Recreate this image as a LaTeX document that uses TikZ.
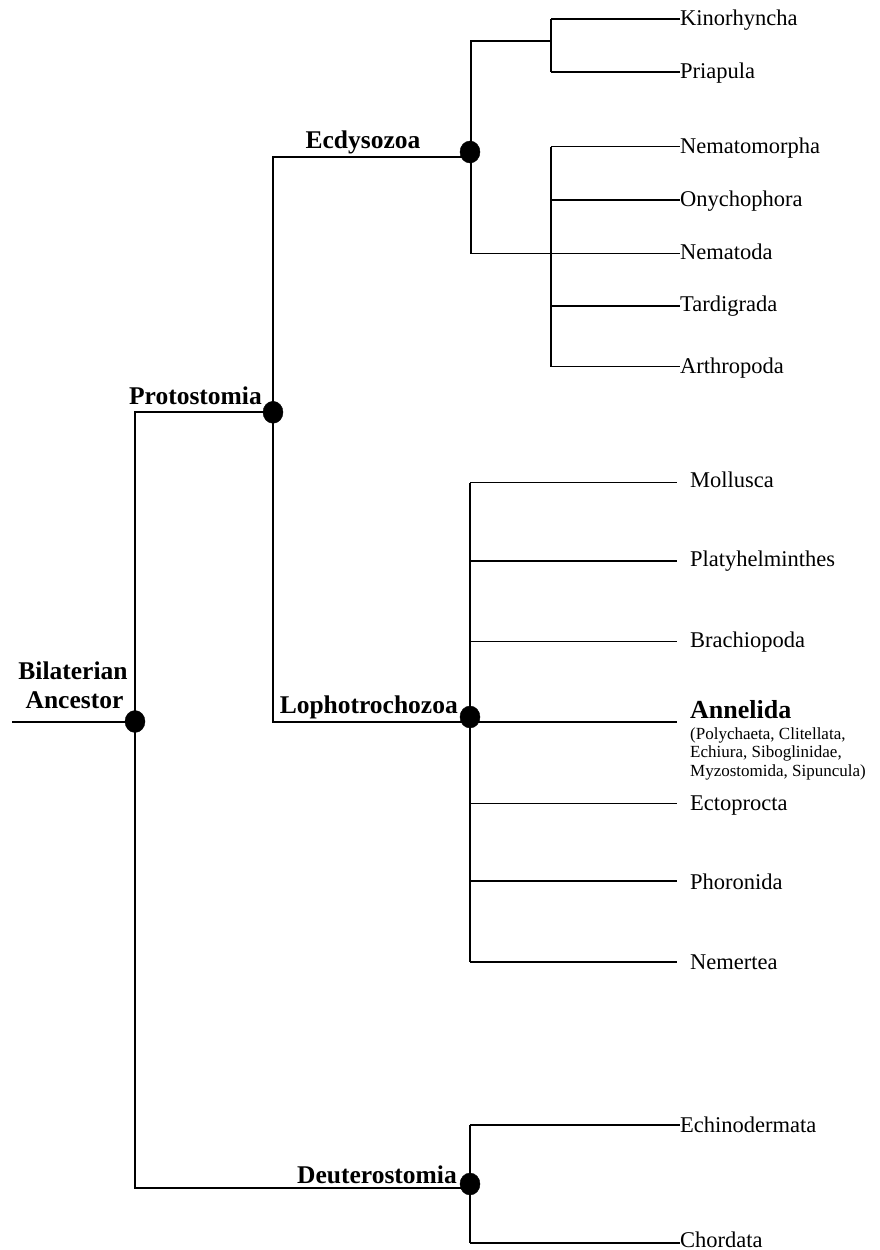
\documentclass[tikz,border=0pt]{standalone}
\usepackage{fontspec}
\setmainfont{Liberation Serif}
\usetikzlibrary{shapes.geometric}
\begin{document}
\begin{tikzpicture}[x=1pt,y=-1pt,
  branch/.style={line width=1.3pt,black},
  dot/.style={ellipse,fill=black,draw=black,minimum width=20pt,minimum height=22pt,inner sep=0pt},
  leaf/.style={anchor=base west,inner sep=0pt,font=\fontsize{22.5}{26}\selectfont},
  lleaf/.style={anchor=base west,inner ysep=0pt,inner xsep=13pt,font=\fontsize{22.5}{26}\selectfont},
  clade/.style={inner sep=0pt,font=\fontsize{25.5}{29}\selectfont\bfseries}]
\path[use as bounding box] (0,0) rectangle (879,1250);

% branch points
\coordinate (R0) at (12,722);
\coordinate (B) at (135,722);
\coordinate (P) at (273,412);
\coordinate (D) at (470,1188);
\coordinate (E) at (471,157);
\coordinate (KP) at (551,41);
\coordinate (k1) at (551,19);
\coordinate (k2) at (551,72);
\coordinate (g1) at (551,146.7);
\coordinate (g2) at (551,200);
\coordinate (g3) at (551,253.3);
\coordinate (g4) at (551,306);
\coordinate (g5) at (551,366.5);
\coordinate (l1) at (470,482.7);
\coordinate (l2) at (470,561);
\coordinate (l3) at (470,641.7);
\coordinate (l4) at (470,722);
\coordinate (l5) at (470,803.3);
\coordinate (l6) at (470,881);
\coordinate (l7) at (470,962);
\coordinate (d1) at (470,1125);
\coordinate (d2) at (470,1243);

% leaf labels
\node[leaf] (kin) at (680,25) {Kinorhyncha};
\node[leaf] (pri) at (680,78.3) {Priapula};
\node[leaf] (nmm) at (680,153.3) {Nematomorpha};
\node[leaf] (ony) at (680,206.7) {Onychophora};
\node[leaf] (nem) at (680,259.5) {Nematoda};
\node[leaf] (tar) at (680,311) {Tardigrada};
\node[leaf] (art) at (680,373) {Arthropoda};

\node[lleaf] (mol) at (677,487.5) {Mollusca};
\node[lleaf] (pla) at (677,566.5) {Platyhelminthes};
\node[lleaf] (bra) at (677,647.5) {Brachiopoda};
\node[anchor=base west,inner ysep=0pt,inner xsep=13pt,font=\fontsize{26}{30}\selectfont\bfseries] (ann) at (677,718.3) {Annelida};
\node[anchor=north west,inner sep=0pt,align=left,font=\fontsize{17}{18.8}\selectfont] (annsub) at (690,727) {(Polychaeta, Clitellata,\\Echiura, Siboglinidae,\\Myzostomida, Sipuncula)};
\node[lleaf] (ect) at (677,810.5) {Ectoprocta};
\node[lleaf] (pho) at (677,889.5) {Phoronida};
\node[lleaf] (nmt) at (677,969) {Nemertea};

\node[leaf] (ech) at (680,1132) {Echinodermata};
\node[leaf] (cho) at (680,1247) {Chordata};

% clade labels
\node[clade,anchor=base] (ecdl) at (363,148) {Ecdysozoa};
\node[clade,anchor=base east] (prol) at (262,404.3) {Protostomia};
\node[clade,anchor=base] (bil1) at (73,679) {Bilaterian};
\node[clade,anchor=base] (bil2) at (74.5,708) {Ancestor};
\node[clade,anchor=base east] (lopl) at (458,713) {Lophotrochozoa};
\node[clade,anchor=base east] (deul) at (457,1183) {Deuterostomia};

% connectors
\begin{scope}[branch]
\draw (R0) -- (B);
\draw (B) |- (P);
\draw (B) |- (D);
\draw (P) |- (E);
\draw (P) |- (l4);
\draw (E) |- (KP);
\draw (E) |- (g3);
\draw (k1) -- (k2);
\draw (k1) -- (k1 -| kin.west);
\draw (k2) -- (k2 -| pri.west);
\draw (g1) -- (g5);
\draw (g1) -- (g1 -| nmm.west);
\draw (g2) -- (g2 -| ony.west);
\draw (g3) -- (g3 -| nem.west);
\draw (g4) -- (g4 -| tar.west);
\draw (g5) -- (g5 -| art.west);
\draw (l1) -- (l7);
\draw (l1) -- (l1 -| mol.west);
\draw (l2) -- (l2 -| pla.west);
\draw (l3) -- (l3 -| bra.west);
\draw (l4) -- (l4 -| ann.west);
\draw (l5) -- (l5 -| ect.west);
\draw (l6) -- (l6 -| pho.west);
\draw (l7) -- (l7 -| nmt.west);
\draw (d1) -- (d2);
\draw (d1) -- (d1 -| ech.west);
\draw (d2) -- (d2 -| cho.west);
\end{scope}

% nodes (dots)
\node[dot] (bdot) at (135,721.5) {};
\node[dot] (pdot) at (273,412.3) {};
\node[dot] (edot) at (470,152) {};
\node[dot] (ldot) at (470,717) {};
\node[dot] (ddot) at (470,1184) {};
\end{tikzpicture}
\end{document}
